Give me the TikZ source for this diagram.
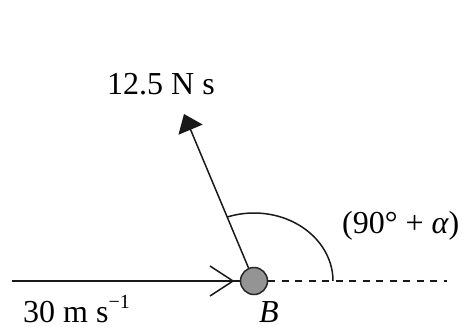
\documentclass[tikz,border=0pt]{standalone}
\usepackage{fontspec}
\setmainfont{Liberation Serif}
\usetikzlibrary{arrows.meta}
\begin{document}
\begin{tikzpicture}[x=1pt,y=-1pt,
  ln/.style={line width=1.5pt, draw=black!90},
  lbl/.style={inner sep=0pt, anchor=base west, font=\fontsize{32}{36}\selectfont},
  ballstyle/.style={circle, draw=black!85, line width=1.5pt, fill=black!42, minimum size=27pt, inner sep=0pt}]
\useasboundingbox (0,0) rectangle (465,328);
\node[ballstyle] (ball) at (254,281) {};
% incoming velocity
\coordinate (vstart) at (12,281);
\coordinate (vtip) at (233,281);
\coordinate (w1) at (210,266);
\coordinate (w2) at (210,296);
\draw[ln] (vstart) -- (ball.west);
\draw[ln, line join=miter] (w1) -- (vtip) -- (w2);
% impulse
\coordinate (itip) at (184,114);
\draw[ln, -{Triangle[length=17pt,width=26pt]}] (ball) -- (itip);
% dashed reference line
\coordinate (dend) at (447,281);
\draw[ln, dash pattern=on 7pt off 6.5pt] (ball.east) -- (dend);
% angle arc
\coordinate (arcstart) at (333,281);
\draw[ln] (arcstart) arc[start angle=0, end angle=109.8, x radius=79pt, y radius=68pt];
% labels
\node[lbl] (limp) at (107,95) {12.5 N s};
\node[lbl] (lang) at (342,234) {(90° + {\itshape α})};
\node[lbl] (lvel) at (23,322) {30 m s\raisebox{0.42em}{\fontsize{20}{20}\selectfont −1}};
\node[lbl] (lB) at (259,322) {\itshape B};
\end{tikzpicture}
\end{document}
